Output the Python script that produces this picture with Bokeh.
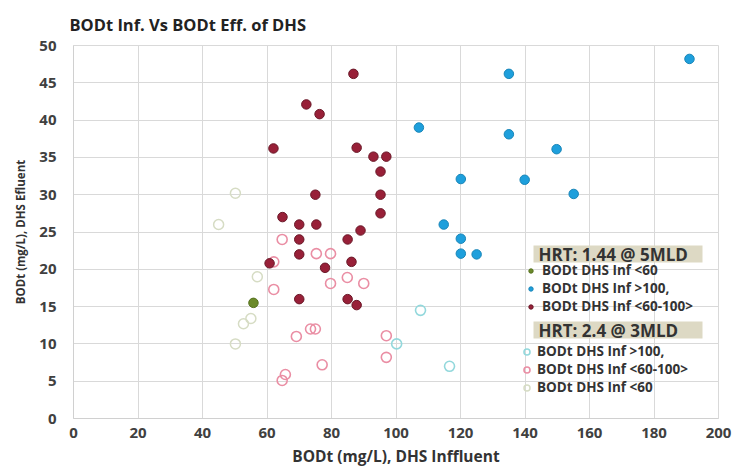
from bokeh.plotting import figure
from bokeh.models import (Legend, LegendItem, Label, BoxAnnotation, FixedTicker, Range1d)
from bokeh.embed import file_html
from bokeh.resources import INLINE

# ---- data ----
# HRT 1.44 @ 5MLD
mid144_x = [86.8, 72.2, 76.3, 62.0, 87.8, 93.0, 97.0, 95.2, 75.0, 95.2, 95.2, 64.8,
            70.0, 75.3, 89.0, 70.0, 85.0, 70.0, 86.2, 78.0, 60.8, 70.0, 85.0, 87.8]
mid144_y = [46.2, 42.1, 40.8, 36.2, 36.3, 35.1, 35.1, 33.1, 30.0, 30.0, 27.5, 27.0,
            26.0, 26.0, 25.2, 24.0, 24.0, 22.0, 21.0, 20.2, 20.8, 16.0, 16.0, 15.2]
high144_x = [135.0, 191.0, 107.1, 135.0, 149.8, 120.1, 139.9, 155.1, 114.8, 120.1, 120.1, 125.0]
high144_y = [46.2, 48.2, 39.0, 38.1, 36.1, 32.1, 32.0, 30.1, 26.0, 24.1, 22.1, 22.0]
low144_x = [55.8]
low144_y = [15.5]
# HRT 2.4 @ 3MLD
mid24_x = [64.7, 75.3, 79.7, 62.1, 84.9, 79.7, 90.0, 62.1, 73.5, 75.0, 69.1, 97.0,
           97.0, 77.1, 65.7, 64.7]
mid24_y = [24.0, 22.1, 22.1, 21.0, 18.9, 18.1, 18.1, 17.3, 12.0, 12.0, 11.0, 11.1,
           8.2, 7.2, 5.9, 5.1]
high24_x = [107.6, 100.2, 116.6]
high24_y = [14.5, 10.0, 7.0]
low24_x = [50.2, 45.0, 57.0, 52.7, 55.0, 50.2]
low24_y = [30.2, 26.0, 19.0, 12.7, 13.4, 10.0]

x_ticks = [0, 20, 40, 60, 80, 100, 120, 140, 160, 180, 200]
y_ticks = [0, 5, 10, 15, 20, 25, 30, 35, 40, 45, 50]

TITLE = "BODt Inf. Vs BODt Eff. of DHS"
FONT = "Open Sans"
TXT = "#404040"

p = figure(width=732, height=473, output_backend="svg", toolbar_location=None,
           x_range=Range1d(0, 200), y_range=Range1d(0, 50),
           min_border_left=73, min_border_right=14, min_border_top=45, min_border_bottom=55,
           title=TITLE)
p.title.text_font = FONT
p.title.text_font_size = "16.5px"
p.title.text_font_style = "bold"
p.title.text_color = "#222222"
p.title.offset = -4
p.title.standoff = 19

p.outline_line_color = "#d9d9d9"
p.background_fill_color = "white"
p.border_fill_color = "white"

for ax in (p.xaxis[0], p.yaxis[0]):
    ax.major_tick_line_color = None
    ax.minor_tick_line_color = None
    ax.major_tick_out = 0
    ax.major_tick_in = 0
    ax.axis_line_color = "#d0d0d0"
    ax.major_label_text_font = FONT
    ax.major_label_text_font_size = "15px"
    ax.major_label_text_font_style = "bold"
    ax.major_label_text_color = TXT
    ax.axis_label_text_font = FONT
    ax.axis_label_text_font_style = "bold"
    ax.axis_label_text_color = "#333333"

p.xaxis.axis_label_text_font_size = "15.5px"
p.yaxis.axis_label_text_font_size = "11.5px"
p.xaxis.ticker = FixedTicker(ticks=x_ticks)
p.yaxis.ticker = FixedTicker(ticks=y_ticks)
p.xaxis.major_label_standoff = 9
p.yaxis.major_label_standoff = 17
p.xaxis.axis_label = "BODt (mg/L), DHS Inffluent"
p.yaxis.axis_label = "BODt (mg/L), DHS Efluent"
p.xaxis.axis_label_standoff = 4
p.yaxis.axis_label_standoff = 8

p.xgrid.grid_line_color = "#d9d9d9"
p.ygrid.grid_line_color = "#d9d9d9"

# ---- glyphs ----
r_low24 = p.scatter(low24_x, low24_y, size=10, fill_color=None,
                    line_color="#d6dcc4", line_width=1.5)
r_mid24 = p.scatter(mid24_x, mid24_y, size=10, fill_color=None,
                    line_color="#ea8ea4", line_width=1.6)
r_high24 = p.scatter(high24_x, high24_y, size=10, fill_color=None,
                     line_color="#93d8dc", line_width=1.6)
r_mid144 = p.scatter(mid144_x, mid144_y, size=9.5, fill_color="#982038",
                     line_color="#6a1828", line_width=1)
r_high144 = p.scatter(high144_x, high144_y, size=9.5, fill_color="#1e9fdc",
                      line_color="#1a86b8", line_width=1)
r_low144 = p.scatter(low144_x, low144_y, size=9.5, fill_color="#6b8a2a",
                     line_color="#55701e", line_width=1)

# ---- legend titles ----
TITLE_BG = "#ddd9c4"
for top, bottom, text, ty in [(173, 156, "HRT: 1.44 @ 5MLD", 164.5),
                              (97, 80, "HRT: 2.4 @ 3MLD", 88.5)]:
    p.add_layout(BoxAnnotation(left=460, right=629, top=top, bottom=bottom,
                               left_units="screen", right_units="screen",
                               top_units="screen", bottom_units="screen",
                               fill_color=TITLE_BG, fill_alpha=1, line_color=None,
                               level="annotation"))
    p.add_layout(Label(x=465, y=ty, x_units="screen", y_units="screen", text=text,
                       text_font=FONT, text_font_size="17px", text_font_style="bold",
                       text_color="#333333", text_baseline="middle"))

def make_legend(items, loc, gw, standoff):
    return Legend(items=items, location=loc, orientation="vertical",
                  border_line_color=None, background_fill_alpha=0,
                  label_text_font=FONT, label_text_font_size="13.5px",
                  label_text_font_style="bold", label_text_color="#333333",
                  glyph_height=15, glyph_width=gw, label_height=15,
                  label_standoff=standoff, spacing=0, padding=0, margin=0)

lg1 = make_legend([LegendItem(label="BODt DHS Inf <60", renderers=[r_low144]),
                   LegendItem(label="BODt DHS Inf >100,", renderers=[r_high144]),
                   LegendItem(label="BODt DHS Inf <60-100>", renderers=[r_mid144])],
                  (452, 103), 11, 6)
lg2 = make_legend([LegendItem(label="BODt DHS Inf >100,", renderers=[r_high24]),
                   LegendItem(label="BODt DHS Inf <60-100>", renderers=[r_mid24]),
                   LegendItem(label="BODt DHS Inf <60", renderers=[r_low24])],
                  (446, 22), 15, 3)
p.add_layout(lg1, "center")
p.add_layout(lg2, "center")

open("out.html", "w").write(file_html(p, INLINE))
